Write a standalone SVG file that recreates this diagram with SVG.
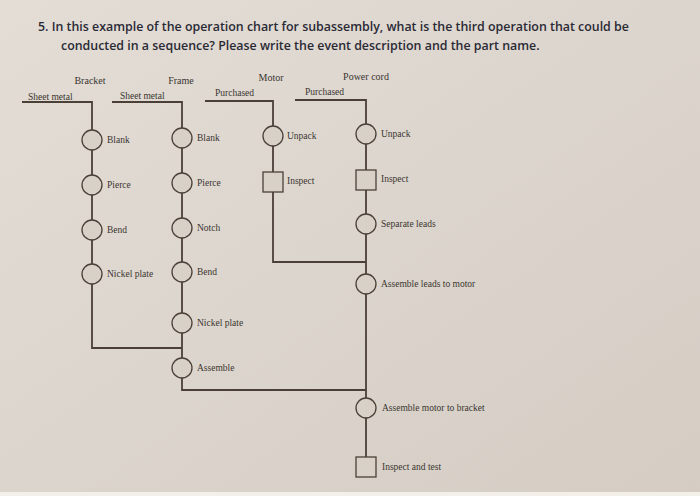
<svg xmlns="http://www.w3.org/2000/svg" width="700" height="496" viewBox="0 0 700 496">
<style>
.q{font-family:"Open Sans","Liberation Sans",sans-serif;font-size:12.4px;font-weight:600;fill:#2a2a35}
.t{font-family:"Liberation Serif",serif;font-size:9.5px;fill:#3a3530}
.h{font-family:"Liberation Serif",serif;font-size:10px;fill:#3a3530;text-anchor:middle}
.ln{fill:none;stroke:#4a4038;stroke-width:1.8}
.op{fill:#d8d1c8;stroke:#4a4038;stroke-width:1.3}
</style>
<defs>
<linearGradient id="bg" x1="0" y1="0" x2="1" y2="1"><stop offset="0" stop-color="#e3ddd6"/><stop offset="1" stop-color="#d5cdc4"/></linearGradient>
</defs>
<rect width="700" height="496" fill="url(#bg)"/>
<rect y="492" width="700" height="4" fill="#f3efe9"/>
<text class="q" x="38" y="31">5.  In this example of the operation chart for subassembly, what is the third operation that could be</text>
<text class="q" x="61" y="50">conducted in a sequence? Please write the event description and the part name.</text>
<g id="headers">
<text class="h" x="90" y="84">Bracket</text><text class="h" x="181" y="84">Frame</text>
<text class="h" x="271" y="81">Motor</text><text class="h" x="366" y="80">Power cord</text>
<text class="t" x="28" y="100">Sheet metal</text><text class="t" x="120" y="99">Sheet metal</text>
<text class="t" x="215" y="96">Purchased</text><text class="t" x="305" y="95">Purchased</text>
</g>
<g id="connectors">
<path class="ln" d="M22,102 H92 V348 H182"/>
<path class="ln" d="M112,102 H182 V390 H366"/>
<path class="ln" d="M205,101 H273 V262 H366"/>
<path class="ln" d="M295,100 H366 V467"/>
</g>
<g id="bracket">
<circle class="op" cx="92" cy="140" r="10"/><text class="t" x="107" y="143">Blank</text>
<circle class="op" cx="92" cy="185" r="10"/><text class="t" x="107" y="188">Pierce</text>
<circle class="op" cx="92" cy="230" r="10"/><text class="t" x="107" y="233">Bend</text>
<circle class="op" cx="92" cy="274" r="10"/><text class="t" x="107" y="277">Nickel plate</text>
</g>
<g id="frame">
<circle class="op" cx="182" cy="138" r="10"/><text class="t" x="197" y="141">Blank</text>
<circle class="op" cx="182" cy="183" r="10"/><text class="t" x="197" y="186">Pierce</text>
<circle class="op" cx="182" cy="228" r="10"/><text class="t" x="197" y="231">Notch</text>
<circle class="op" cx="182" cy="272" r="10"/><text class="t" x="197" y="275">Bend</text>
<circle class="op" cx="182" cy="323" r="10"/><text class="t" x="197" y="326">Nickel plate</text>
<circle class="op" cx="182" cy="368" r="10"/><text class="t" x="197" y="371">Assemble</text>
</g>
<g id="motor">
<circle class="op" cx="273" cy="136" r="10"/><text class="t" x="287" y="139">Unpack</text>
<rect class="op" x="263" y="172" width="20" height="20"/><text class="t" x="287" y="184">Inspect</text>
</g>
<g id="powercord">
<circle class="op" cx="366" cy="134" r="10"/><text class="t" x="381" y="137">Unpack</text>
<rect class="op" x="356" y="170" width="20" height="20"/><text class="t" x="381" y="182">Inspect</text>
<circle class="op" cx="366" cy="224" r="10"/><text class="t" x="381" y="227">Separate leads</text>
<circle class="op" cx="366" cy="284" r="10"/><text class="t" x="381" y="287">Assemble leads to motor</text>
<circle class="op" cx="366" cy="408" r="10"/><text class="t" x="382" y="411">Assemble motor to bracket</text>
<rect class="op" x="356" y="457" width="20" height="20"/><text class="t" x="382" y="470">Inspect and test</text>
</g>
</svg>
